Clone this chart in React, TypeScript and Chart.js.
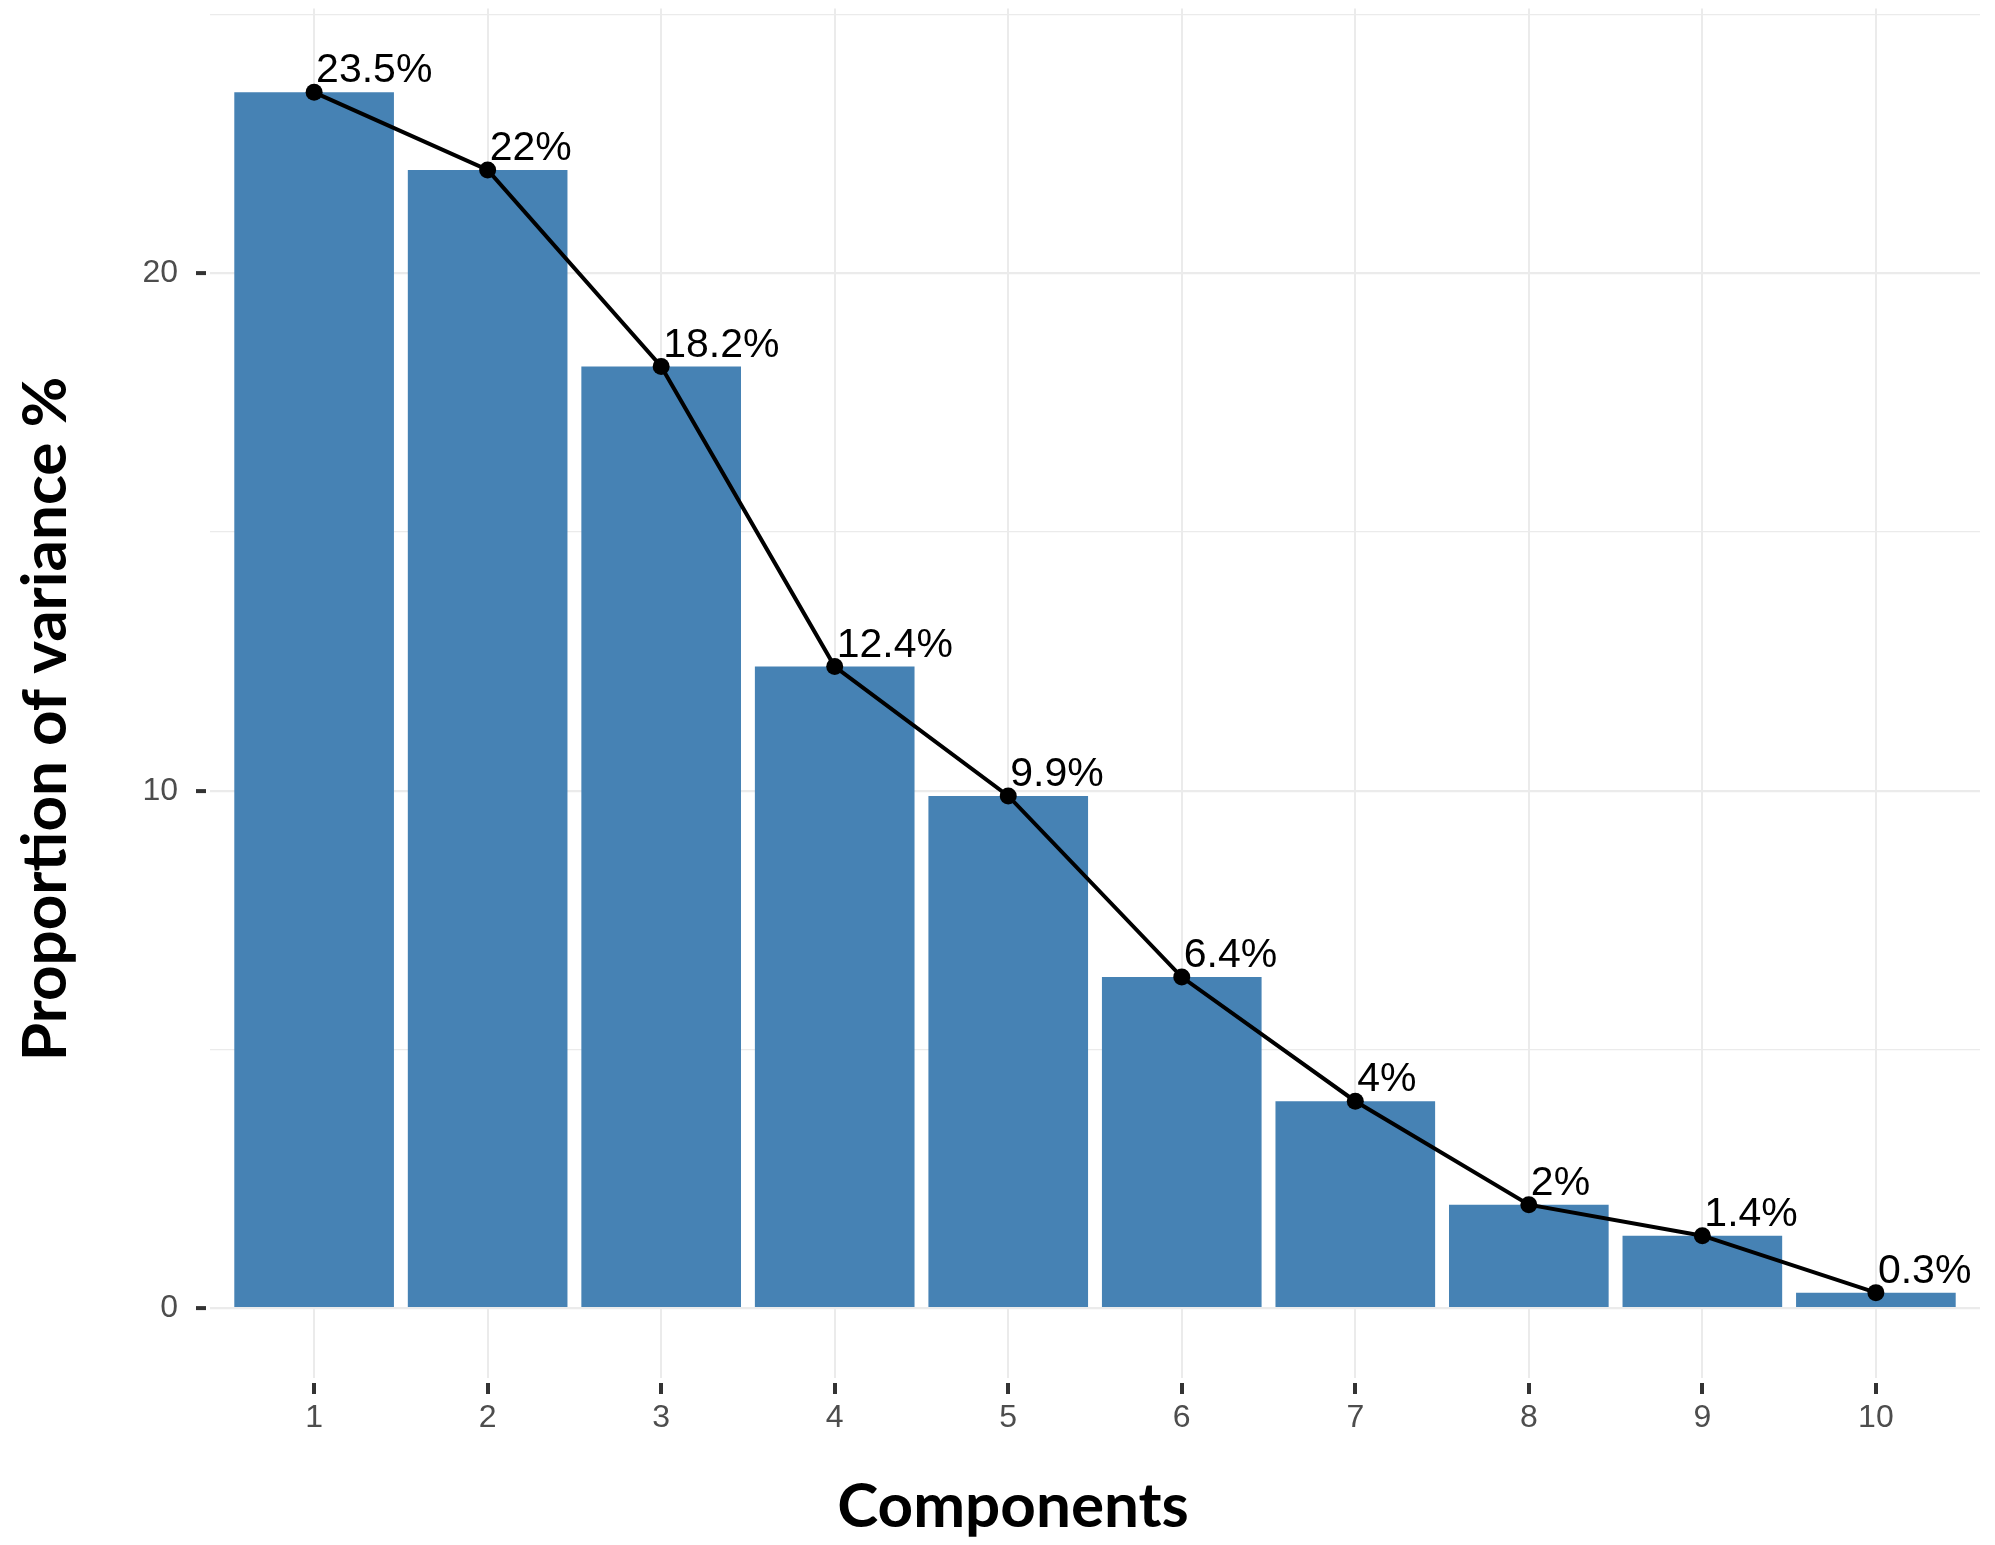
import React, { useEffect, useRef } from 'react';
import { Chart, registerables } from 'chart.js';

Chart.register(...registerables);

const components = [1, 2, 3, 4, 5, 6, 7, 8, 9, 10];
const variance = [23.5, 22, 18.2, 12.4, 9.9, 6.4, 4, 2, 1.4, 0.3];
const varianceLabels = variance.map((v) => `${v}%`);
const yTickValues = [0, 5, 10, 15, 20, 25];
const yLabeledTicks = [0, 10, 20];
const xTitle = 'Components';
const yTitle = 'Proportion of variance %';

const W = 1995;
const H = 1545;
const tickFont = { family: '"Liberation Sans", Arial, Helvetica, sans-serif', size: 32 };
const titleFont = 'bold 62px Lato, "Open Sans", sans-serif';

const pointLabelPlugin = {
  id: 'pointLabels',
  afterDatasetsDraw(chart: any) {
    const meta = chart.getDatasetMeta(0);
    const ctx = chart.ctx;
    ctx.save();
    ctx.font = '41px "Liberation Sans", Arial, Helvetica, sans-serif';
    ctx.fillStyle = '#000000';
    ctx.textAlign = 'left';
    ctx.textBaseline = 'alphabetic';
    meta.data.forEach((el: any, i: number) => {
      ctx.fillText(varianceLabels[i], el.x + 2, el.y - 10);
    });
    ctx.restore();
  },
};

const axisTitlePlugin = {
  id: 'axisTitles',
  afterDraw(chart: any) {
    const ctx = chart.ctx;
    ctx.save();
    ctx.font = titleFont;
    ctx.fillStyle = '#000000';
    ctx.textAlign = 'center';
    ctx.textBaseline = 'alphabetic';
    ctx.fillText(xTitle, 1013, 1527);
    ctx.translate(66, 719);
    ctx.rotate(-Math.PI / 2);
    ctx.fillText(yTitle, 0, 0);
    ctx.restore();
  },
};

export default function App() {
  const canvasRef = useRef<HTMLCanvasElement | null>(null);

  useEffect(() => {
    document.body.style.margin = '0';
    const canvas = canvasRef.current;
    if (!canvas) return;
    const chart = new Chart(canvas, {
      type: 'bar',
      data: {
        datasets: [
          {
            type: 'line',
            order: 0,
            data: components.map((c, i) => ({ x: c, y: variance[i] })),
            borderColor: '#000000',
            borderWidth: 4,
            pointRadius: 8.5,
            pointBackgroundColor: '#000000',
            pointBorderWidth: 0,
            tension: 0,
            clip: false,
          } as any,
          {
            type: 'bar',
            order: 1,
            data: components.map((c, i) => ({ x: c, y: variance[i] })),
            backgroundColor: '#4682B4',
            borderWidth: 0,
            barPercentage: 0.92,
            categoryPercentage: 1,
          } as any,
        ],
      },
      options: {
        animation: false,
        responsive: false,
        maintainAspectRatio: false,
        layout: { padding: { left: 0, right: 15, top: 0, bottom: 0 } },
        plugins: {
          legend: { display: false },
          tooltip: { enabled: false },
        },
        scales: {
          x: {
            type: 'linear',
            min: 0.4,
            max: 10.6,
            offset: false,
            afterBuildTicks: (axis: any) => {
              axis.ticks = components.map((v) => ({ value: v }));
            },
            afterFit: (s: any) => {
              s.height = 167;
              s.paddingLeft = 0;
              s.paddingRight = 0;
            },
            border: { display: false },
            grid: {
              offset: false,
              color: '#EBEBEB',
              lineWidth: 2,
              drawTicks: true,
              tickLength: 19,
              tickColor: '#333333',
              tickWidth: 4,
              tickBorderDash: [0, 5, 11, 100],
            },
            ticks: {
              color: '#4D4D4D',
              font: tickFont,
              padding: 2,
              autoSkip: false,
              maxRotation: 0,
              callback: (v: any) => String(v),
            },
          },
          y: {
            type: 'linear',
            min: -1.35,
            max: 25.12,
            afterBuildTicks: (axis: any) => {
              axis.ticks = yTickValues.map((v) => ({ value: v }));
            },
            afterFit: (s: any) => {
              s.width = 210;
              s.paddingTop = 0;
              s.paddingBottom = 0;
            },
            border: { display: false },
            grid: {
              color: '#EBEBEB',
              lineWidth: (ctx: any) => (ctx.tick && yLabeledTicks.includes(ctx.tick.value) ? 2.2 : 1.2),
              drawTicks: true,
              tickLength: 14,
              tickColor: (ctx: any) =>
                ctx.tick && yLabeledTicks.includes(ctx.tick.value) ? '#333333' : 'rgba(0,0,0,0)',
              tickWidth: 4,
              tickBorderDash: [10, 100],
            },
            ticks: {
              color: '#4D4D4D',
              font: tickFont,
              padding: 18,
              autoSkip: false,
              callback: (v: any) => (yLabeledTicks.includes(Number(v)) ? String(v) : ''),
            },
          },
        },
      } as any,
      plugins: [pointLabelPlugin, axisTitlePlugin],
    });
    return () => chart.destroy();
  }, []);

  return (
    <div style={{ position: 'absolute', left: 0, top: 0, width: W, height: H, background: '#ffffff' }}>
      <canvas ref={canvasRef} width={W} height={H} style={{ display: 'block', width: W, height: H }} />
    </div>
  );
}
